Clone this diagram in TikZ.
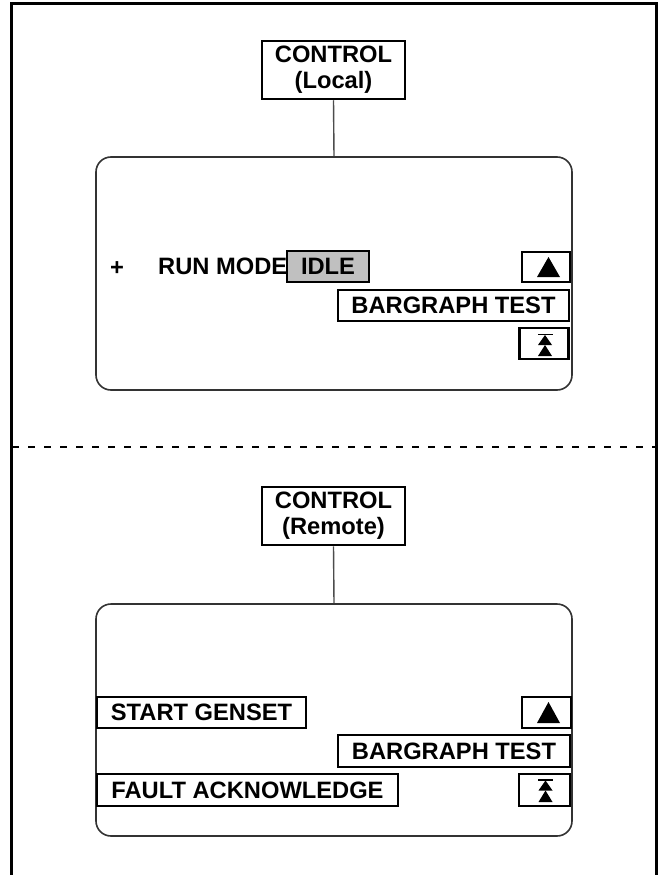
\documentclass[tikz,border=0pt]{standalone}
\usepackage{fontspec}
\setmainfont{Liberation Sans}
\begin{document}
\begin{tikzpicture}[x=1pt,y=-1pt,
  lbl/.style={font=\fontsize{23.7}{26}\selectfont\bfseries, inner sep=0pt, text=black},
  btn/.style={lbl, draw=black, line width=2.5pt, fill=white},
  ctrlbox/.style={btn, align=center, minimum width=143, minimum height=58},
  screen/.style={draw=black!80, line width=1.6pt, rounded corners=15pt, fill=white},
  link/.style={draw=black!70, line width=1.4pt},
  frame/.style={draw=black, line width=3pt},
  sep/.style={draw=black, line width=2.3pt, dash pattern=on 7pt off 9pt},
  tri/.style={fill=black, draw=none}]
\useasboundingbox (0,0) rectangle (658,875);
\fill[white] (0,0) rectangle (658,875);
% outer frame (open at bottom)
\draw[frame] (11,875) -- (11,4) -- (656,4) -- (656,875);
% separator
\draw[sep] (12,447) -- (656,447);

% ---------- Local ----------
\node[screen, minimum width=476, minimum height=233] (scr1) at (334,273.5) {};
\node[ctrlbox] (ctrlL) at (333.5,70) {CONTROL\\(Local)};
\draw[link] (ctrlL.south) -- (scr1.north);
\node[lbl] (plus) at (117,268.5) {+};
\node[lbl, anchor=base west] (runmode) at (158,274) {RUN MODE};
\node[btn, fill={rgb,255:red,192;green,192;blue,192}, minimum width=82, minimum height=31] (idle) at (328,266.5) {IDLE};
\node[btn, minimum width=48, minimum height=30] (up1) at (546,267) {};
\node[btn, minimum width=231, minimum height=31] (bar1) at (453.5,305.5) {BARGRAPH TEST};
\node[btn, minimum width=49, minimum height=31] (top1) at (544,343.5) {};
\fill[tri, shift={(up1.center)}] (2.5,-10) -- (14,10) -- (-9,10) -- cycle;
\begin{scope}[shift={(top1.center)}]
  \fill[tri] (-6.5,-10) rectangle (8.5,-8.5);
  \fill[tri] (1,-8.5) -- (8,1.5) -- (-6,1.5) -- cycle;
  \fill[tri] (1,1.5) -- (8,12.5) -- (-6,12.5) -- cycle;
\end{scope}

% ---------- Remote ----------
\node[screen, minimum width=476, minimum height=232] (scr2) at (334,720) {};
\node[ctrlbox] (ctrlR) at (333.5,516) {CONTROL\\(Remote)};
\draw[link] (ctrlR.south) -- (scr2.north);
\node[btn, minimum width=209, minimum height=31] (start) at (201.5,712.5) {START GENSET};
\node[btn, minimum width=49, minimum height=31] (up2) at (546.5,712.5) {};
\node[btn, minimum width=232, minimum height=32] (bar2) at (454,751) {BARGRAPH TEST};
\node[btn, minimum width=301, minimum height=32] (fault) at (247.5,790) {FAULT ACKNOWLEDGE};
\node[btn, minimum width=51, minimum height=32] (top2) at (544.5,790) {};
\fill[tri, shift={(up2.center)}] (2,-10.5) -- (13.5,10.5) -- (-9.5,10.5) -- cycle;
\begin{scope}[shift={(top2.center)}]
  \fill[tri] (-6.5,-11) rectangle (8.5,-9.5);
  \fill[tri] (1,-9.5) -- (8,0.5) -- (-6,0.5) -- cycle;
  \fill[tri] (1,0.5) -- (8,12) -- (-6,12) -- cycle;
\end{scope}
\end{tikzpicture}
\end{document}
